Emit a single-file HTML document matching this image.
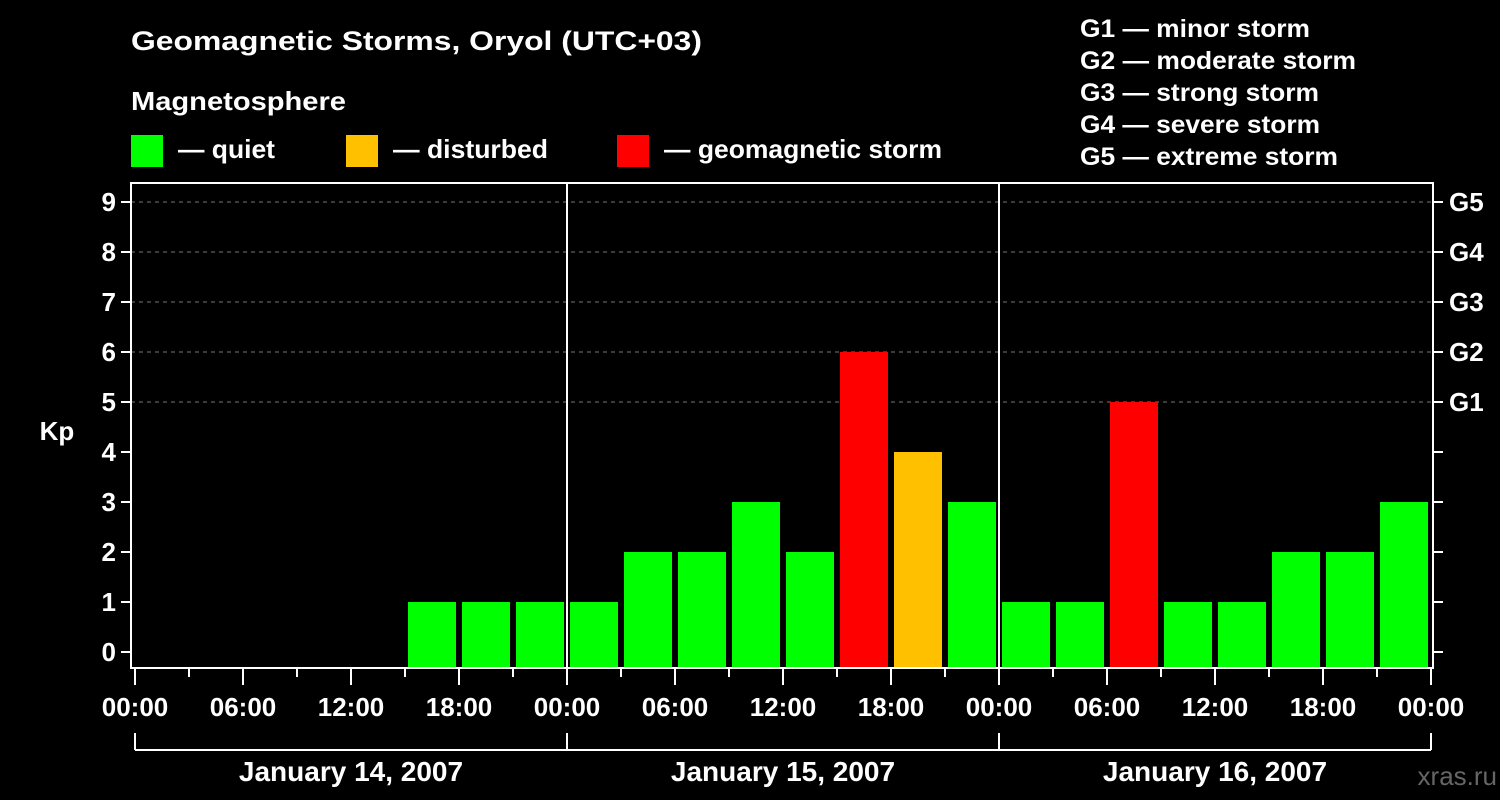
<!DOCTYPE html>
<html><head><meta charset="utf-8"><style>
html,body{margin:0;padding:0;background:#000;}
svg{display:block;font-family:"Liberation Sans Narrow","Liberation Sans",sans-serif;font-weight:bold;}
</style></head><body>
<svg id="chart" width="1500" height="800" viewBox="0 0 1500 800">
<text x="131" y="50" font-size="27" fill="#fff" textLength="571" lengthAdjust="spacingAndGlyphs">Geomagnetic Storms, Oryol (UTC+03)</text>
<text x="131" y="110" font-size="26" fill="#fff" textLength="215" lengthAdjust="spacingAndGlyphs">Magnetosphere</text>
<g><rect x="131" y="135" width="32" height="32" fill="#00ff00"/><text x="178" y="158" font-size="26" fill="#fff" textLength="97" lengthAdjust="spacingAndGlyphs">— quiet</text></g>
<g><rect x="346" y="135" width="32" height="32" fill="#ffc000"/><text x="393" y="158" font-size="26" fill="#fff" textLength="155" lengthAdjust="spacingAndGlyphs">— disturbed</text></g>
<g><rect x="617" y="135" width="32" height="32" fill="#ff0000"/><text x="664" y="158" font-size="26" fill="#fff" textLength="278" lengthAdjust="spacingAndGlyphs">— geomagnetic storm</text></g>
<g font-size="25" fill="#fff">
<text x="1080" y="37" textLength="230" lengthAdjust="spacingAndGlyphs">G1 — minor storm</text>
<text x="1080" y="69" textLength="276" lengthAdjust="spacingAndGlyphs">G2 — moderate storm</text>
<text x="1080" y="101" textLength="239" lengthAdjust="spacingAndGlyphs">G3 — strong storm</text>
<text x="1080" y="133" textLength="240" lengthAdjust="spacingAndGlyphs">G4 — severe storm</text>
<text x="1080" y="165" textLength="258" lengthAdjust="spacingAndGlyphs">G5 — extreme storm</text>
</g>
<text x="57" y="440" font-size="26" fill="#fff" font-family="Liberation Sans,sans-serif" text-anchor="middle">Kp</text>
<text x="1497" y="785" font-size="26" fill="#666" text-anchor="end" font-family="Liberation Sans,sans-serif" font-weight="normal">xras.ru</text>
<g id="plot"></g>
</svg>
<script>
const kpValues = [0,0,0,0,0,1,1,1, 1,2,2,3,2,6,4,3, 1,1,5,1,1,2,2,3];
const yTicks = [0,1,2,3,4,5,6,7,8,9];
const gLabels = ["G1","G2","G3","G4","G5"];
const hourLabels = ["00:00","06:00","12:00","18:00"];
const dayLabels = ["January 14, 2007","January 15, 2007","January 16, 2007"];

const NS="http://www.w3.org/2000/svg";
const g=document.getElementById('plot');
const L=131,R=1433,T=183,B=668,X0=135,PXH=18;
const y=v=>652-50*v;
const x=h=>X0+h*PXH;
function el(t,a){const e=document.createElementNS(NS,t);for(const k in a)e.setAttribute(k,a[k]);g.appendChild(e);return e;}
function color(v){return v>=5?"#ff0000":v>=4?"#ffc000":"#00ff00";}
// gridlines
yTicks.forEach(v=>{if(v>=5){const l=el('line',{x1:L,x2:R,y1:y(v),y2:y(v),stroke:'#777','stroke-dasharray':'4,4','stroke-width':1});
}});
// bars
kpValues.forEach((v,i)=>{if(v<=0)return;const r=el('rect',{x:x(i*3)+3,y:y(v),width:48,height:B-y(v),fill:color(v)});
});
// day separators
[1,2].forEach(d=>{const l=el('line',{x1:x(d*24),x2:x(d*24),y1:T,y2:B,stroke:'#fff','stroke-width':2});
});
// frame
const f=el('rect',{x:L,y:T,width:R-L,height:B-T,fill:'none',stroke:'#fff','stroke-width':2});

// y ticks
yTicks.forEach(v=>{el('line',{x1:L-10,x2:L,y1:y(v),y2:y(v),stroke:'#fff','stroke-width':2});
el('line',{x1:R,x2:R+10,y1:y(v),y2:y(v),stroke:'#fff','stroke-width':2});
const t=el('text',{x:116,y:y(v)+9,'font-size':26,fill:'#fff','text-anchor':'end','font-family':'Liberation Sans,sans-serif'});t.textContent=v;
});
gLabels.forEach((s,i)=>{const t=el('text',{x:1449,y:y(5+i)+9,'font-size':26,fill:'#fff','font-family':'Liberation Sans,sans-serif'});t.textContent=s;
});
// x ticks
for(let h=0;h<=72;h+=3){const long=h%6===0;el('line',{x1:x(h),x2:x(h),y1:B,y2:B+(long?17:9),stroke:'#fff','stroke-width':2});}
for(let h=0;h<=72;h+=6){const t=el('text',{x:x(h),y:716,'font-size':26,fill:'#fff','text-anchor':'middle','font-family':'Liberation Sans,sans-serif'});
t.textContent=hourLabels[(h/6)%4];}
// day brackets
el('line',{x1:x(0),x2:x(72),y1:750,y2:750,stroke:'#fff','stroke-width':2});
for(let d=0;d<=3;d++)el('line',{x1:x(d*24),x2:x(d*24),y1:733,y2:750,stroke:'#fff','stroke-width':2});
dayLabels.forEach((s,d)=>{const t=el('text',{x:x(d*24+12),y:781,'font-size':28,fill:'#fff','text-anchor':'middle','font-family':'Liberation Sans,sans-serif'});
t.textContent=s;});
</script>
</body></html>
